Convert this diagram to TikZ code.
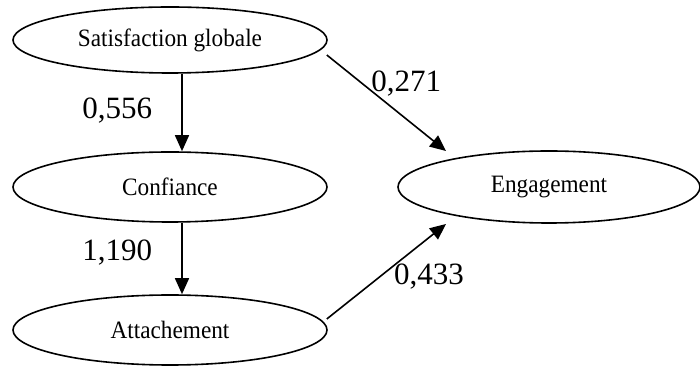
\documentclass[tikz,border=0pt]{standalone}
\usepackage{fontspec}
\setmainfont{Liberation Serif}
\newfontfamily\namefont[FakeStretch=0.93]{Liberation Serif}
\usetikzlibrary{shapes.geometric,positioning,arrows.meta}
\tikzset{
  construct/.style={ellipse,draw,line width=0.8pt,inner sep=0pt,minimum width=157pt,minimum height=35pt,font=\namefont\fontsize{12.5}{14}\selectfont},
  coef/.style={inner sep=0pt,font=\fontsize{15.5}{17}\selectfont},
  every edge/.style={draw,line width=0.8pt,-{Triangle[length=8pt,width=7pt]}},
}
\begin{document}
\begin{tikzpicture}[x=0.5pt,y=-0.5pt]
\useasboundingbox (0,0) rectangle (700,367);

% constructs of the model
\node[construct,minimum height=33pt] (sat) at (170,40) {Satisfaction globale};
\node[construct] (conf) at (170,187) {Confiance};
\node[construct] (att) at (170,330) {Attachement};
\node[construct,minimum width=151pt,minimum height=36pt] (eng) at (549,187) {Engagement};

% vertical chain on the left
\path
([xshift=6pt]sat.south) edge node[coef,pos=0.47,left=14.5pt] {0,556} ([xshift=6pt]conf.north)
([xshift=6pt]conf.south) edge node[coef,pos=0.42,left=14.5pt] {1,190} ([xshift=6pt]att.north);

% direct paths to engagement
\path
([shift={(-1,15)}]sat.east) edge node[coef,pos=0.3,right=4pt] {0,271} ([shift={(-103,-36)}]eng.center)
([shift={(-1,-11)}]att.east) edge node[coef,pos=0.45,right=6.5pt] {0,433} ([shift={(-103,37)}]eng.center);

\end{tikzpicture}
\end{document}
